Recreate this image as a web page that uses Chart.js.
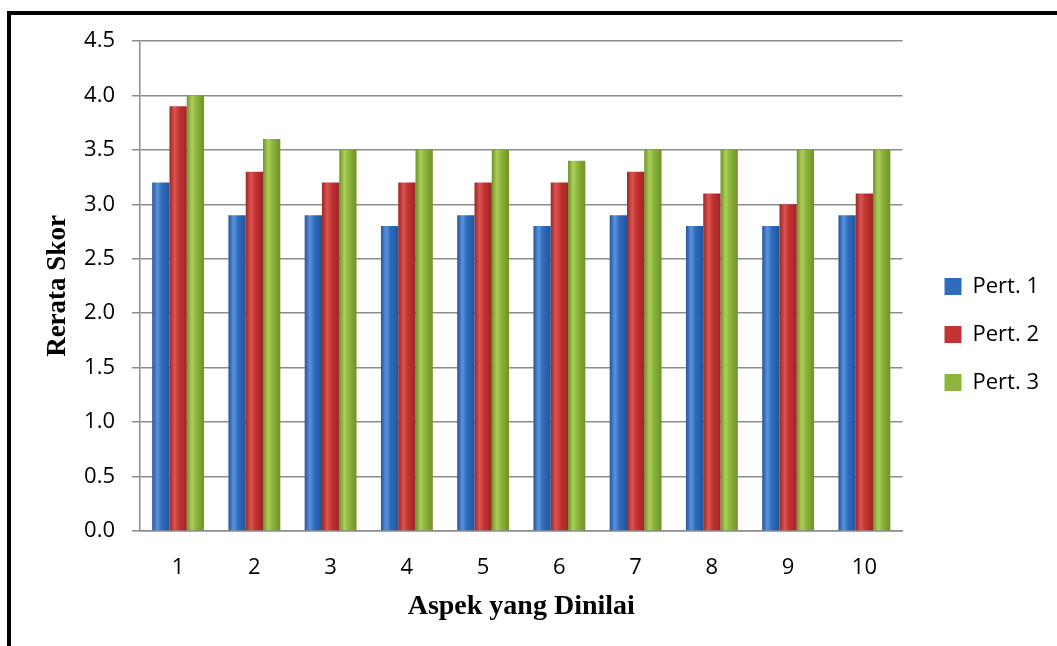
<!DOCTYPE html>
<html>
<head>
<meta charset="utf-8">
<script src="https://cdn.jsdelivr.net/npm/chart.js@4.4.0/dist/chart.umd.min.js"></script>
<style>
  html, body { margin: 0; padding: 0; background: #fff; overflow: hidden; }
  #wrap { position: absolute; left: 0; top: 0; width: 1057px; height: 646px; }
  #frame {
    position: absolute; left: 7px; top: 11px; width: 1200px; height: 800px;
    border-top: 4px solid #000; border-left: 4px solid #000; pointer-events: none;
  }
</style>
</head>
<body>
<div id="wrap">
  <canvas id="skorChart" width="1057" height="646"></canvas>
</div>
<div id="frame"></div>
<script>
const aspects = ["1", "2", "3", "4", "5", "6", "7", "8", "9", "10"];
const pert1 = [3.2, 2.9, 2.9, 2.8, 2.9, 2.8, 2.9, 2.8, 2.8, 2.9];
const pert2 = [3.9, 3.3, 3.2, 3.2, 3.2, 3.2, 3.3, 3.1, 3.0, 3.1];
const pert3 = [4.0, 3.6, 3.5, 3.5, 3.5, 3.4, 3.5, 3.5, 3.5, 3.5];
const seriesNames = ["Pert. 1", "Pert. 2", "Pert. 3"];
const seriesColors = ["#2f6cbd", "#c13431", "#8db43c"];
const edgeColors = ["#23549a", "#9c2624", "#6f9228"];
const lightColors = ["#5a93dc", "#dc5451", "#acd05a"];

const tickFont = { family: "'Open Sans', 'Noto Sans', sans-serif", size: 22 };

// cylinder-like shading across each bar
const barShading = {
  id: "barShading",
  beforeDatasetsDraw(chart) {
    const ctx = chart.ctx;
    chart.data.datasets.forEach((ds, i) => {
      chart.getDatasetMeta(i).data.forEach((bar) => {
        const left = bar.x - bar.width / 2;
        const grad = ctx.createLinearGradient(left, 0, left + bar.width, 0);
        grad.addColorStop(0, edgeColors[i]);
        grad.addColorStop(0.3, lightColors[i]);
        grad.addColorStop(0.55, seriesColors[i]);
        grad.addColorStop(1, edgeColors[i]);
        bar.options = Object.assign({}, bar.options, { backgroundColor: grad });
      });
    });
  }
};

// push the legend a little further right, away from the plot
const legendShift = {
  id: "legendShift",
  afterLayout(chart) {
    chart.legend.left += 16;
    chart.legend.right += 16;
  }
};

const context = document.getElementById("skorChart").getContext("2d");
const skorChart = new Chart(context, {
  type: "bar",
  data: {
    labels: aspects,
    datasets: [pert1, pert2, pert3].map((values, i) => ({
      label: seriesNames[i],
      data: values,
      backgroundColor: seriesColors[i],
      borderWidth: 0,
      barPercentage: 1.0,
      categoryPercentage: 0.68
    }))
  },
  plugins: [barShading, legendShift],
  options: {
    responsive: false,
    animation: false,
    layout: { padding: { top: 41, left: 30, right: 24, bottom: 18 } },
    plugins: {
      legend: {
        position: "right",
        labels: {
          boxWidth: 17,
          boxHeight: 17,
          padding: 26,
          color: "#000",
          font: tickFont
        }
      },
      tooltip: { enabled: false }
    },
    scales: {
      x: {
        grid: { display: false, drawTicks: false },
        border: { color: "#8c8c8c", width: 1.5 },
        ticks: { color: "#000", font: tickFont, padding: 24 },
        title: {
          display: true,
          text: "Aspek yang Dinilai",
          color: "#000",
          font: { family: "'Liberation Serif', 'Times New Roman', serif", size: 28, weight: "bold" },
          padding: { top: 0, bottom: 4 }
        },
        afterFit: (scale) => { scale.height = 97; }
      },
      y: {
        min: 0,
        max: 4.5,
        grid: { color: "#8c8c8c", lineWidth: 1.5, tickLength: 8 },
        border: { color: "#8c8c8c", width: 1.5 },
        ticks: {
          stepSize: 0.5,
          color: "#000",
          font: tickFont,
          padding: 17,
          callback: (value) => value.toFixed(1)
        },
        title: {
          display: true,
          text: "Rerata Skor",
          color: "#000",
          font: { family: "'Liberation Serif', 'Times New Roman', serif", size: 27, weight: "bold" },
          padding: { top: 12, bottom: 0 }
        },
        afterFit: (scale) => { scale.width = 110; }
      }
    }
  }
});
</script>
</body>
</html>
